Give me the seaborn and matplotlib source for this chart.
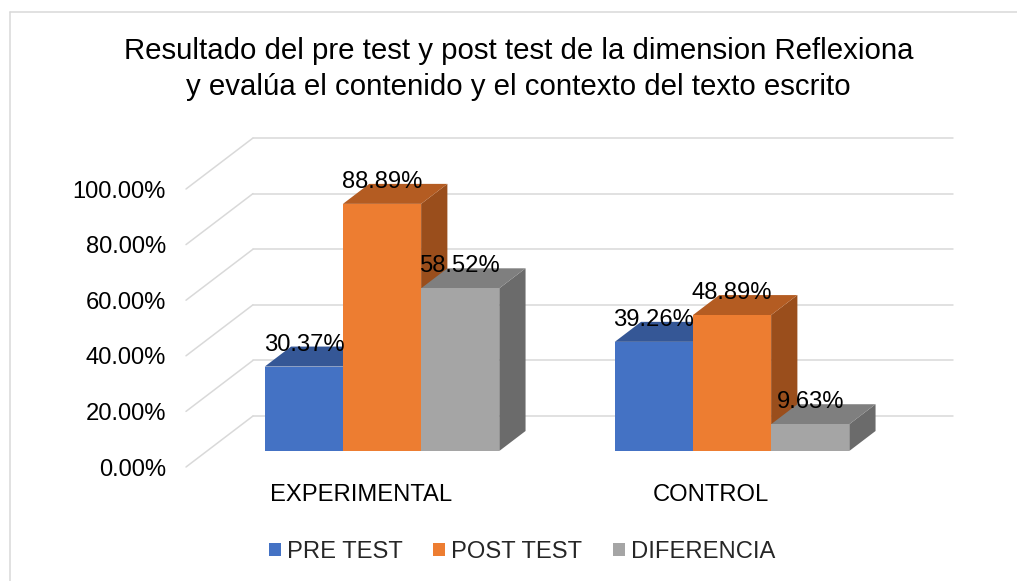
import numpy as np
import pandas as pd
import seaborn as sns
import matplotlib.pyplot as plt
from matplotlib.patches import Polygon, Patch
from matplotlib.lines import Line2D

# datos del grafico
grupos = ["EXPERIMENTAL", "CONTROL"]
series = ["PRE TEST", "POST TEST", "DIFERENCIA"]
pre_test = [30.37, 39.26]
post_test = [88.89, 48.89]
diferencia = [58.52, 9.63]
y_ticks = [0, 20, 40, 60, 80, 100]

colores = ["#4472C4", "#ED7D31", "#A5A5A5"]
techo = ["#355796", "#B45C22", "#7F7F7F"]
lado = ["#2F4D87", "#9A4E1C", "#6B6B6B"]
GRID = "#D9D9D9"

# profundidad del "3D" en pixeles (pared del fondo) y fraccion de las barras
DEPTH_PX = (67, 51)
BAR_FRONT = 0.314
BAR_BACK = 0.706
FS = 17.1

df = pd.DataFrame({
    "grupo": grupos * len(series),
    "serie": np.repeat(series, len(grupos)),
    "valor": pre_test + post_test + diferencia,
})

sns.set_theme(style="white")
plt.rcParams["font.family"] = ["Liberation Sans", "DejaVu Sans"]

fig = plt.figure(figsize=(10.17, 5.81), dpi=100)
ax = fig.add_axes([186 / 1017, 114 / 581, 700 / 1017, 278 / 581])
sns.barplot(data=df, x="grupo", y="valor", hue="serie", order=grupos,
            hue_order=series, palette=colores, saturation=1, width=0.67,
            errorbar=None, legend=False, ax=ax)
ax.set_xlim(-0.5, 1.5)
ax.set_ylim(0, 100)

p0 = ax.transData.transform((0, 0))
p1 = ax.transData.transform((1, 1))
dx_full = DEPTH_PX[0] / (p1[0] - p0[0])
dy_full = DEPTH_PX[1] / (p1[1] - p0[1])


def proj(x, y, d):
    return (x + d * dx_full, y + d * dy_full)


# lineas de division: pared izquierda + pared del fondo
x_lo, x_hi = ax.get_xlim()
for t in y_ticks:
    xb, yb = proj(x_lo, t, 1)
    ax.plot([x_lo, xb], [t, yb], color=GRID, lw=1.1, zorder=0.5, clip_on=False)
    xe, ye = proj(x_hi, t, 1)
    ax.plot([xb, xe], [yb, ye], color=GRID, lw=1.1, zorder=0.5, clip_on=False)

barras = []
for k, cont in enumerate(ax.containers):
    for rect in cont.patches:
        barras.append((rect.get_x(), rect, k))
barras.sort(key=lambda b: b[0])

for i, (x0, rect, k) in enumerate(barras):
    w = rect.get_width()
    h = rect.get_height()
    x1 = x0 + w
    z = 2 + 3 * i
    side = [proj(x1, 0, BAR_FRONT), proj(x1, h, BAR_FRONT),
            proj(x1, h, BAR_BACK), proj(x1, 0, BAR_BACK)]
    top = [proj(x0, h, BAR_FRONT), proj(x1, h, BAR_FRONT),
           proj(x1, h, BAR_BACK), proj(x0, h, BAR_BACK)]
    ax.add_patch(Polygon(side, closed=True, facecolor=lado[k], edgecolor="none",
                         zorder=z, clip_on=False))
    ax.add_patch(Polygon(top, closed=True, facecolor=techo[k], edgecolor="none",
                         zorder=z + 1, clip_on=False))
    rect.set_xy(proj(x0, 0, BAR_FRONT))
    rect.set_zorder(z + 2)
    rect.set_edgecolor("none")
    rect.set_clip_on(False)
    ax.annotate(f"{h:.2f}%", xy=proj(x0 + w / 2, h, BAR_FRONT), xytext=(0, 11.5),
                textcoords="offset points", ha="center", va="baseline",
                fontsize=FS, color="black", zorder=60, annotation_clip=False)

ax.set_yticks(y_ticks, labels=[f"{t:.2f}%" for t in y_ticks])
ax.tick_params(axis="y", length=0, pad=14.4, labelsize=FS, labelcolor="black")
ax.tick_params(axis="x", length=0, pad=12.4, labelsize=FS, labelcolor="black")
ax.set_xlabel("")
ax.set_ylabel("")
for s in ax.spines.values():
    s.set_visible(False)
ax.patch.set_alpha(0)

fig.text(0.51, 1 - 69 / 581,
         "Resultado del pre test y post test de la dimension Reflexiona\n"
         "y evalúa el contenido y el contexto del texto escrito",
         ha="center", va="center", fontsize=21.2, linespacing=1.32, color="black")

handles = [Patch(facecolor=c, edgecolor="none") for c in colores]
fig.legend(handles, series, loc="center", bbox_to_anchor=(522 / 1017, 1 - 552 / 581),
           ncol=3, frameon=False, fontsize=FS, handlelength=0.5, handleheight=0.5,
           handletextpad=0.25, columnspacing=1.3)

# borde del area del grafico
fig.add_artist(Line2D([10 / 1017, 10 / 1017], [0, 1 - 11.5 / 581], color=GRID, lw=1.1))
fig.add_artist(Line2D([10 / 1017, 1], [1 - 11.5 / 581, 1 - 11.5 / 581], color=GRID, lw=1.1))

fig.savefig("out.png", dpi=100)
